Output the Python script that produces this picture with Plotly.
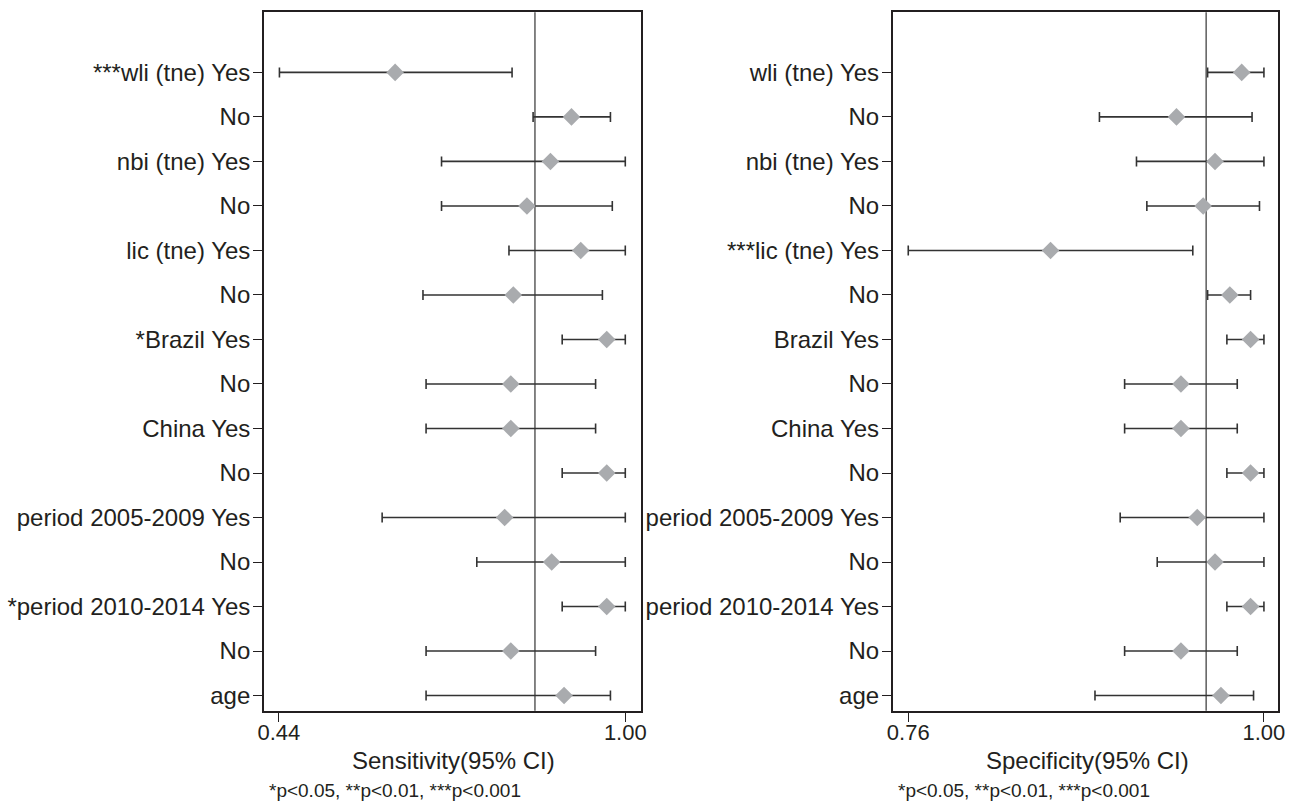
import plotly.graph_objects as go
import numpy as np

# rows, top to bottom
sens_labels = ["***wli (tne) Yes", "No", "nbi (tne) Yes", "No", "lic (tne) Yes", "No",
               "*Brazil Yes", "No", "China Yes", "No", "period 2005-2009 Yes", "No",
               "*period 2010-2014 Yes", "No", "age"]
spec_labels = ["wli (tne) Yes", "No", "nbi (tne) Yes", "No", "***lic (tne) Yes", "No",
               "Brazil Yes", "No", "China Yes", "No", "period 2005-2009 Yes", "No",
               "period 2010-2014 Yes", "No", "age"]

sens_est = [0.628, 0.913, 0.879, 0.841, 0.928, 0.819, 0.970, 0.815, 0.815, 0.970, 0.805, 0.881, 0.970, 0.815, 0.901]
sens_lo = [0.441, 0.851, 0.703, 0.703, 0.812, 0.673, 0.898, 0.678, 0.678, 0.898, 0.607, 0.760, 0.898, 0.678, 0.678]
sens_hi = [0.817, 0.976, 1.000, 0.979, 1.000, 0.963, 1.000, 0.952, 0.952, 1.000, 1.000, 1.000, 1.000, 0.952, 0.976]

spec_est = [0.985, 0.941, 0.967, 0.959, 0.856, 0.977, 0.991, 0.944, 0.944, 0.991, 0.955, 0.967, 0.991, 0.944, 0.971]
spec_lo = [0.962, 0.889, 0.914, 0.921, 0.760, 0.962, 0.975, 0.906, 0.906, 0.975, 0.903, 0.928, 0.975, 0.906, 0.886]
spec_hi = [1.000, 0.992, 1.000, 0.997, 0.952, 0.991, 1.000, 0.982, 0.982, 1.000, 1.000, 1.000, 1.000, 0.982, 0.993]

sens_overall = 0.854
spec_overall = 0.961

sens_ticks = [0.44, 1.00]
spec_ticks = [0.76, 1.00]

FONT = "Arial, Liberation Sans, sans-serif"
INK = "#231f20"
rows = np.arange(len(sens_labels))

W, H = 1289, 802


def px(x):
    return x / W


def py(y):
    return 1 - y / H


def forest(est, lo, hi, xa, ya):
    est, lo, hi = np.array(est), np.array(lo), np.array(hi)
    return go.Scatter(
        x=est, y=rows, mode="markers", xaxis=xa, yaxis=ya,
        marker=dict(symbol="diamond", size=13.5, color="#a9abae"),
        error_x=dict(type="data", symmetric=False, array=hi - est, arrayminus=est - lo,
                     color="#333333", thickness=1.6, width=5),
        showlegend=False, hoverinfo="skip",
    )


fig = go.Figure()
fig.add_trace(forest(sens_est, sens_lo, sens_hi, "x", "y"))
fig.add_trace(forest(spec_est, spec_lo, spec_hi, "x2", "y2"))

ax_common = dict(showgrid=False, zeroline=False, showline=True, linecolor=INK, linewidth=1.6,
                 mirror=True, ticks="outside", ticklen=9, tickwidth=1.3, tickcolor=INK,
                 automargin=False)
xfont = dict(family=FONT, size=22, color=INK)
yfont = dict(family=FONT, size=24, color=INK)
yrange = [14.34, -1.35]
ydom = [py(710.7), py(12.3)]

fig.update_layout(
    width=W, height=H,
    margin=dict(l=0, r=0, t=0, b=0, autoexpand=False),
    paper_bgcolor="white", plot_bgcolor="white",
    font=dict(family=FONT, color=INK),
    xaxis=dict(domain=[px(263.9), px(640.7)], range=[0.4159, 1.0249], tickvals=sens_ticks,
               ticktext=[f"{v:.2f}" for v in sens_ticks], tickfont=xfont,
               ticklabelstandoff=-8, **ax_common),
    xaxis2=dict(domain=[px(892.7), px(1278.3)], range=[0.7495, 1.0097], tickvals=spec_ticks,
                ticktext=[f"{v:.2f}" for v in spec_ticks], tickfont=xfont,
                ticklabelstandoff=-8, anchor="y2", **ax_common),
    yaxis=dict(domain=ydom, range=yrange, tickvals=rows, ticktext=sens_labels,
               tickfont=yfont, ticklabelstandoff=-2, **ax_common),
    yaxis2=dict(domain=ydom, range=yrange, tickvals=rows, ticktext=spec_labels,
                tickfont=yfont, ticklabelstandoff=-2, anchor="x2", **ax_common),
)

# reference lines at the pooled estimates
for xa, ya, v in [("x", "y", sens_overall), ("x2", "y2", spec_overall)]:
    fig.add_shape(type="line", xref=xa, yref=f"{ya} domain", x0=v, x1=v, y0=0, y1=1,
                  line=dict(color="#333333", width=1.2), layer="below")

# axis titles and footnotes
for xc, title in [(453, "Sensitivity(95% CI)"), (1087, "Specificity(95% CI)")]:
    fig.add_annotation(text=title, x=px(xc), y=py(760), xref="paper", yref="paper",
                       xanchor="center", yanchor="middle", showarrow=False,
                       font=dict(size=24, color=INK))
for xc in [395, 1024]:
    fig.add_annotation(text="*p<0.05, **p<0.01, ***p<0.001", x=px(xc), y=py(790),
                       xref="paper", yref="paper", xanchor="center", yanchor="middle",
                       showarrow=False, font=dict(size=19, color=INK))

# drop the default page margin so the figure sits flush in the window
fig.write_html("out.html", config={"displayModeBar": False},
               post_script="document.body.style.margin='0';")
